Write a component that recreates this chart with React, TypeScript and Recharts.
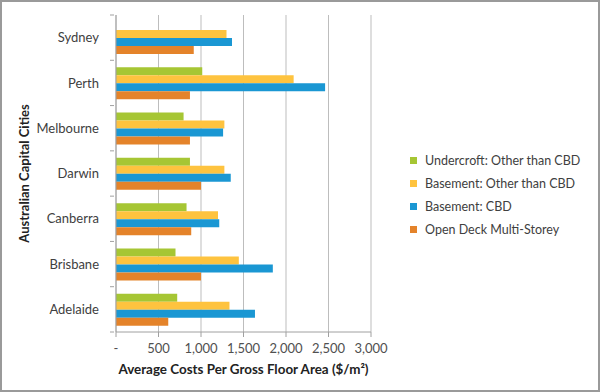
import React from 'react';
import { BarChart, Bar, XAxis, YAxis, CartesianGrid } from 'recharts';

const cities = ['Sydney', 'Perth', 'Melbourne', 'Darwin', 'Canberra', 'Brisbane', 'Adelaide'];
const undercroftOther = [0, 1015, 795, 870, 830, 700, 720];
const basementOther = [1300, 2090, 1275, 1275, 1200, 1445, 1335];
const basementCBD = [1365, 2460, 1260, 1350, 1215, 1845, 1635];
const openDeck = [915, 870, 870, 1000, 885, 1000, 615];
const xTicks = [0, 500, 1000, 1500, 2000, 2500, 3000];

const seriesNames = [
  'Undercroft: Other than CBD',
  'Basement: Other than CBD',
  'Basement: CBD',
  'Open Deck Multi-Storey',
];
const colors = ['#a6c634', '#fec33f', '#1a97d3', '#e4832a'];

const data = cities.map((c, i) => ({
  city: c,
  u: undercroftOther[i],
  bo: basementOther[i],
  bc: basementCBD[i],
  od: openDeck[i],
}));

const FONT = 'Lato, "Open Sans", sans-serif';
const TOP = 15;
const BOTTOM = 60;
const H = 392;
const BAND = (H - TOP - BOTTOM) / cities.length;

const fmt = (v: number) => (v === 0 ? '-' : v.toLocaleString('en-US'));

const CityTick = (props: any) => {
  const { x, y, payload, index } = props;
  const ax = x; // axis x position (tick start)
  return (
    <g>
      <line x1={ax - 4} x2={ax} y1={y - BAND / 2} y2={y - BAND / 2} stroke="#a0a0a0" />
      {index === cities.length - 1 && (
        <line x1={ax - 4} x2={ax} y1={y + BAND / 2} y2={y + BAND / 2} stroke="#a0a0a0" />
      )}
      <text
        x={ax - 15}
        y={y}
        dy="0.355em"
        textAnchor="end"
        fill="#404040"
        fontSize={13}
        fontFamily={FONT}
      >
        {payload.value}
      </text>
    </g>
  );
};

export default function App() {
  return (
    <div
      style={{
        position: 'absolute',
        left: 0,
        top: 0,
        width: 600,
        height: 392,
        boxSizing: 'border-box',
        border: '2px solid #9a9a9a',
        background: '#fff',
      }}
    >
      <div style={{ position: 'absolute', left: -2, top: -2 }}>
        <BarChart
          width={600}
          height={H}
          data={data}
          layout="vertical"
          margin={{ top: TOP, right: 229, bottom: 0, left: 0 }}
          barGap={0}
          barSize={8}
        >
          <CartesianGrid horizontal={false} stroke="#bdbdbd" />
          <XAxis
            type="number"
            domain={[0, 3000]}
            ticks={xTicks}
            tickFormatter={fmt}
            interval={0}
            stroke="#a0a0a0"
            tickSize={5}
            tick={{ fill: '#505050', fontSize: 13, fontFamily: FONT, dy: 5 }}
            height={BOTTOM}
            label={{
              value: 'Average Costs Per Gross Floor Area ($/m²)',
              position: 'insideBottom',
              offset: 18,
              fill: '#222',
              fontSize: 13.4,
              fontWeight: 700,
              fontFamily: FONT,
            }}
          />
          <YAxis
            type="category"
            dataKey="city"
            width={116}
            stroke="#a0a0a0"
            tickSize={0}
            tickLine={false}
            tick={<CityTick />}
            label={{
              value: 'Australian Capital Cities',
              angle: -90,
              position: 'insideLeft',
              offset: 24,
              style: { textAnchor: 'middle' },
              fill: '#222',
              fontSize: 13,
              fontWeight: 700,
              fontFamily: FONT,
            }}
          />
          <Bar dataKey="u" name={seriesNames[0]} fill={colors[0]} isAnimationActive={false} />
          <Bar dataKey="bo" name={seriesNames[1]} fill={colors[1]} isAnimationActive={false} />
          <Bar dataKey="bc" name={seriesNames[2]} fill={colors[2]} isAnimationActive={false} />
          <Bar dataKey="od" name={seriesNames[3]} fill={colors[3]} isAnimationActive={false} />
        </BarChart>
      </div>
      <div
        style={{
          position: 'absolute',
          left: 408,
          top: 147,
          fontFamily: FONT,
          fontSize: 12.5,
          color: '#404040',
        }}
      >
        {seriesNames.map((n, i) => (
          <div key={n} style={{ display: 'flex', alignItems: 'center', height: 23 }}>
            <span
              style={{ display: 'inline-block', width: 7, height: 7, background: colors[i], marginRight: 8 }}
            />
            <span>{n}</span>
          </div>
        ))}
      </div>
    </div>
  );
}
